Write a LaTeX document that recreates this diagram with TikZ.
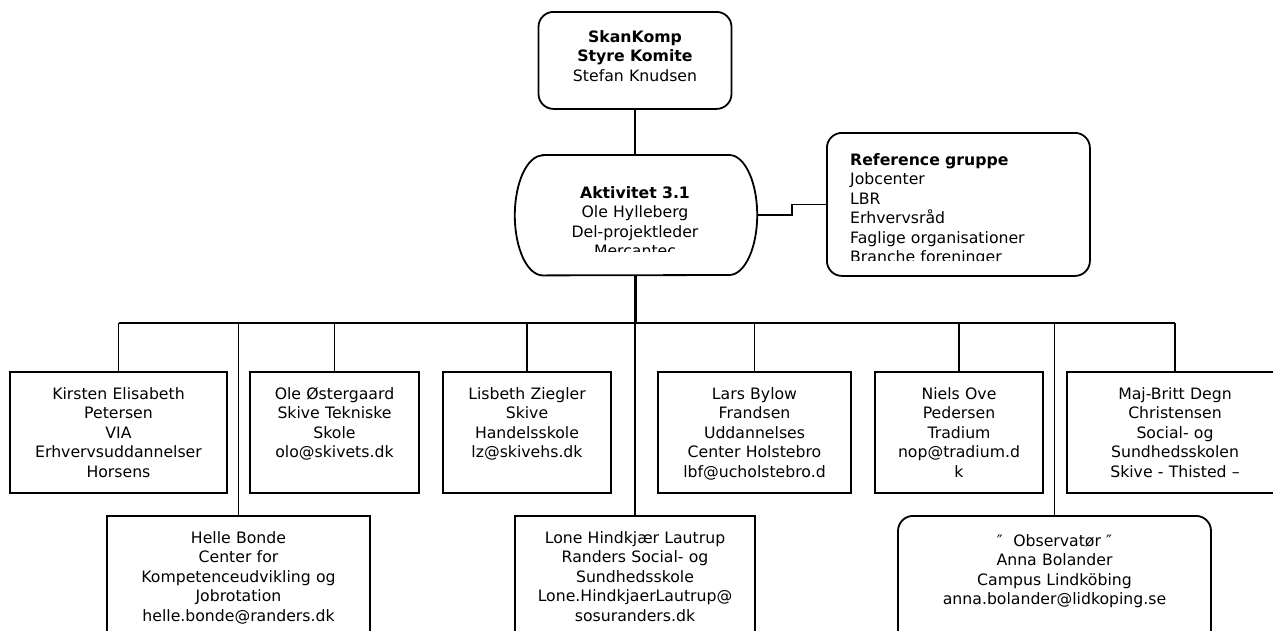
\documentclass[tikz,border=0pt]{standalone}
\usepackage{fontspec}
\setmainfont{DejaVu Sans}
\usetikzlibrary{positioning}

\begin{document}
\begin{tikzpicture}[x=1pt,y=-1pt,
    every node/.style={font=\fontsize{15.7pt}{19.5pt}\selectfont},
    pbox/.style={draw,line width=1.8pt,inner sep=0pt,anchor=north},
    rbox/.style={draw,line width=1.8pt,inner sep=0pt,rounded corners=15pt},
    txt/.style={align=center,inner sep=0pt,anchor=base},
    link/.style={line width=1.8pt}]
      \useasboundingbox(0,0)rectangle(1273,630);
      \clip(0,0)rectangle(1273,630);
      % top
      \node[rbox,anchor=north,minimum width=193pt,minimum height=97pt](skan)at(635,11){};
      \node[txt,text width=185pt](skanT)at([yshift=-31pt]skan.north){\textbf{SkanKomp}\\\textbf{Styre Komite}\\Stefan Knudsen};
      \node[inner sep=0pt,anchor=north,minimum width=242pt,minimum height=120pt](aktiv)at(636,155){};
      \draw[line width=1.8pt]([xshift=28pt]aktiv.north west)--([xshift=-28pt]aktiv.north east)
        arc[start angle=90,end angle=-90,x radius=28pt,y radius=60pt]--([xshift=28pt]aktiv.south west)
        arc[start angle=270,end angle=90,x radius=28pt,y radius=60pt]--cycle;
      \begin{scope}
        \clip(515,155)rectangle(757,251);
        \node[txt,text width=200pt](aktivT)at(635,198){\textbf{Aktivitet 3.1}\\Ole Hylleberg\\Del-projektleder\\Mercantec};
      \end{scope}
      \node[rbox,anchor=north west,minimum width=263pt,minimum height=143pt](ref)at(826,132){};
      \begin{scope}
        \clip(826,132)rectangle(1089,260);
        \node[txt,anchor=base west,text width=235pt,align=left](refT)at([xshift=24pt,yshift=-33pt]ref.north west){\textbf{Reference gruppe}\\Jobcenter\\LBR\\Erhvervsråd\\Faglige organisationer\\Branche foreninger};
      \end{scope}
      % first row
      \node[pbox,minimum width=217pt,minimum height=121pt](kirsten)at(118.5,371){};
      \node[pbox,minimum width=169pt,minimum height=121pt](ole)at(334.5,371){};
      \node[pbox,minimum width=168pt,minimum height=121pt](lisbeth)at(527,371){};
      \node[pbox,minimum width=193pt,minimum height=121pt](lars)at(754.5,371){};
      \node[pbox,minimum width=168pt,minimum height=121pt](niels)at(959,371){};
      \node[pbox,minimum width=216pt,minimum height=121pt](maj)at(1175,371){};
      \node[txt,text width=210pt](kirstenT)at([yshift=-28pt]kirsten.north){Kirsten Elisabeth\\Petersen\\VIA\\Erhvervsuddannelser\\Horsens};
      \node[txt,text width=165pt](oleT)at([yshift=-28pt]ole.north){Ole Østergaard\\Skive Tekniske\\Skole\\olo@skivets.dk};
      \node[txt,text width=164pt](lisbethT)at([yshift=-28pt]lisbeth.north){Lisbeth Ziegler\\Skive\\Handelsskole\\lz@skivehs.dk};
      \node[txt,text width=189pt](larsT)at([yshift=-28pt]lars.north){Lars Bylow\\Frandsen\\Uddannelses\\Center Holstebro\\lbf@ucholstebro.d};
      \node[txt,text width=164pt](nielsT)at([yshift=-28pt]niels.north){Niels Ove\\Pedersen\\Tradium\\nop@tradium.d\\k};
      \node[txt,text width=210pt](majT)at([yshift=-28pt]maj.north){Maj-Britt Degn\\Christensen\\Social- og\\Sundhedsskolen\\Skive - Thisted –};
      % second row
      \node[pbox,minimum width=263pt,minimum height=150pt](helle)at(238.5,515){};
      \node[pbox,minimum width=240pt,minimum height=150pt](lone)at(635,515){};
      \node[rbox,anchor=north,minimum width=313pt,minimum height=150pt](obs)at(1054.5,515){};
      \node[txt,text width=258pt](helleT)at([yshift=-28pt]helle.north){Helle Bonde\\Center for\\Kompetenceudvikling og\\Jobrotation\\helle.bonde@randers.dk};
      \node[txt,text width=236pt](loneT)at([yshift=-28pt]lone.north){Lone Hindkjær Lautrup\\Randers Social- og\\Sundhedsskole\\Lone.HindkjaerLautrup@\\sosuranders.dk};
      \node[txt,text width=305pt](obsT)at([yshift=-31pt]obs.north){″~~Observatør~″\\Anna Bolander\\Campus Lindköbing\\anna.bolander@lidkoping.se};
      % lines
      \coordinate(hub)at(635,323);
      \draw[link](skan.south)--(skan.south|-aktiv.north);
      \draw[link](aktiv.east)--++(35,0)|-(ref.west);
      \draw[line width=3pt](aktiv.south-|hub)--(hub);
      \draw[line width=2.4pt](kirsten.north|-hub)--(maj.north|-hub);
      \draw[link](hub)--(lone.north);
      \foreach \n in {kirsten,ole,lisbeth,lars,niels,maj,helle,obs}
        \draw[link](\n.north|-hub)--(\n.north);
    \end{tikzpicture}
\end{document}
